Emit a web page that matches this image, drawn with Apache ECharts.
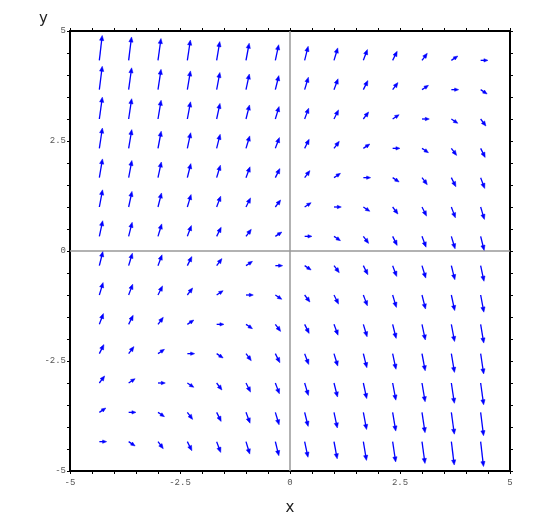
<!DOCTYPE html>
<html>
<head>
<meta charset="utf-8">
<script src="https://cdn.jsdelivr.net/npm/echarts@6/dist/echarts.min.js"></script>
<style>html,body{margin:0;padding:0;background:#fff}#c{width:541px;height:513px}</style>
</head>
<body>
<div id="c"></div>
<script>
// grid point positions (tail of each arrow)
const xs = [-4.333,-3.667,-3,-2.333,-1.667,-1,-0.333,0.333,1,1.667,2.333,3,3.667,4.333];
const ys = [-4.333,-3.667,-3,-2.333,-1.667,-1,-0.333,0.333,1,1.667,2.333,3,3.667,4.333];
// arrow x-components (data units), rows follow ys, columns follow xs
const U = [
 [0.166,0.147,0.120,0.103,0.092,0.085,0.080,0.076,0.073,0.071,0.069,0.068,0.066,0.065],
 [0.147,0.166,0.147,0.120,0.103,0.092,0.085,0.080,0.076,0.073,0.071,0.069,0.068,0.066],
 [0.120,0.147,0.166,0.147,0.120,0.103,0.092,0.085,0.080,0.076,0.073,0.071,0.069,0.068],
 [0.103,0.120,0.147,0.166,0.147,0.120,0.103,0.092,0.085,0.080,0.076,0.073,0.071,0.069],
 [0.092,0.103,0.120,0.147,0.166,0.147,0.120,0.103,0.092,0.085,0.080,0.076,0.073,0.071],
 [0.085,0.092,0.103,0.120,0.147,0.166,0.147,0.120,0.103,0.092,0.085,0.080,0.076,0.073],
 [0.080,0.085,0.092,0.103,0.120,0.147,0.166,0.147,0.120,0.103,0.092,0.085,0.080,0.076],
 [0.076,0.080,0.085,0.092,0.103,0.120,0.147,0.166,0.147,0.120,0.103,0.092,0.085,0.080],
 [0.073,0.076,0.080,0.085,0.092,0.103,0.120,0.147,0.166,0.147,0.120,0.103,0.092,0.085],
 [0.071,0.073,0.076,0.080,0.085,0.092,0.103,0.120,0.147,0.166,0.147,0.120,0.103,0.092],
 [0.069,0.071,0.073,0.076,0.080,0.085,0.092,0.103,0.120,0.147,0.166,0.147,0.120,0.103],
 [0.068,0.069,0.071,0.073,0.076,0.080,0.085,0.092,0.103,0.120,0.147,0.166,0.147,0.120],
 [0.066,0.068,0.069,0.071,0.073,0.076,0.080,0.085,0.092,0.103,0.120,0.147,0.166,0.147],
 [0.065,0.066,0.068,0.069,0.071,0.073,0.076,0.080,0.085,0.092,0.103,0.120,0.147,0.166]
];
// arrow y-components (data units)
const V = [
 [0,-0.098,-0.160,-0.206,-0.246,-0.283,-0.319,-0.355,-0.390,-0.426,-0.461,-0.496,-0.531,-0.566],
 [0.098,0,-0.098,-0.160,-0.206,-0.246,-0.283,-0.319,-0.355,-0.390,-0.426,-0.461,-0.496,-0.531],
 [0.160,0.098,0,-0.098,-0.160,-0.206,-0.246,-0.283,-0.319,-0.355,-0.390,-0.426,-0.461,-0.496],
 [0.206,0.160,0.098,0,-0.098,-0.160,-0.206,-0.246,-0.283,-0.319,-0.355,-0.390,-0.426,-0.461],
 [0.246,0.206,0.160,0.098,0,-0.098,-0.160,-0.206,-0.246,-0.283,-0.319,-0.355,-0.390,-0.426],
 [0.283,0.246,0.206,0.160,0.098,0,-0.098,-0.160,-0.206,-0.246,-0.283,-0.319,-0.355,-0.390],
 [0.319,0.283,0.246,0.206,0.160,0.098,0,-0.098,-0.160,-0.206,-0.246,-0.283,-0.319,-0.355],
 [0.355,0.319,0.283,0.246,0.206,0.160,0.098,0,-0.098,-0.160,-0.206,-0.246,-0.283,-0.319],
 [0.390,0.355,0.319,0.283,0.246,0.206,0.160,0.098,0,-0.098,-0.160,-0.206,-0.246,-0.283],
 [0.426,0.390,0.355,0.319,0.283,0.246,0.206,0.160,0.098,0,-0.098,-0.160,-0.206,-0.246],
 [0.461,0.426,0.390,0.355,0.319,0.283,0.246,0.206,0.160,0.098,0,-0.098,-0.160,-0.206],
 [0.496,0.461,0.426,0.390,0.355,0.319,0.283,0.246,0.206,0.160,0.098,0,-0.098,-0.160],
 [0.531,0.496,0.461,0.426,0.390,0.355,0.319,0.283,0.246,0.206,0.160,0.098,0,-0.098],
 [0.566,0.531,0.496,0.461,0.426,0.390,0.355,0.319,0.283,0.246,0.206,0.160,0.098,0]
];
const tickLabels = [-5, -2.5, 0, 2.5, 5];

const arrows = [];
for (let j = 0; j < ys.length; j++) {
  for (let i = 0; i < xs.length; i++) {
    arrows.push([xs[i], ys[j], U[j][i], V[j][i]]);
  }
}

function fmt(v) {
  for (const t of tickLabels) if (Math.abs(v - t) < 1e-6) return String(t);
  return '';
}

const monoLabel = { fontFamily: '"Liberation Mono","DejaVu Sans Mono",monospace', fontSize: 9, color: '#555' };

function axisCommon(extra) {
  return Object.assign({
    type: 'value', min: -5, max: 5, interval: 0.5,
    axisLine: { show: true, onZero: false, lineStyle: { color: '#000', width: 2 } },
    axisTick: { show: true, inside: false, length: 3, lineStyle: { color: '#000', width: 1 } },
    splitLine: { show: false }
  }, extra);
}

const chart = echarts.init(document.getElementById('c'), null, { renderer: 'canvas' });
chart.setOption({
  backgroundColor: '#fff',
  animation: false,
  grid: { left: 70, right: 31, top: 31, bottom: 42, containLabel: false, outerBoundsMode: 'none' },
  xAxis: [
    axisCommon({ position: 'bottom', name: 'x', nameLocation: 'middle', nameGap: 30,
      nameTextStyle: { fontFamily: '"DejaVu Sans",sans-serif', fontSize: 15, color: '#222' },
      axisLabel: Object.assign({ formatter: fmt, margin: 7, showMinLabel: true, showMaxLabel: true }, monoLabel) }),
    axisCommon({ position: 'top', axisLabel: { show: false } })
  ],
  yAxis: [
    axisCommon({ position: 'left', name: 'y', nameLocation: 'end', nameGap: 4,
      nameTextStyle: { fontFamily: '"DejaVu Sans",sans-serif', fontSize: 15, color: '#222', align: 'right', padding: [0, 22, 0, 0] },
      axisLabel: Object.assign({ formatter: fmt, margin: 4, showMinLabel: true, showMaxLabel: true }, monoLabel) }),
    axisCommon({ position: 'right', axisLabel: { show: false } })
  ],
  series: [
    { type: 'line', data: [[0, -5], [0, 5]], showSymbol: false, symbol: 'none', silent: true,
      lineStyle: { color: '#999', width: 1.5 }, z: 1 },
    { type: 'line', data: [[-5, 0], [5, 0]], showSymbol: false, symbol: 'none', silent: true,
      lineStyle: { color: '#999', width: 1.5 }, z: 1 },
    {
      type: 'custom', z: 5, silent: true,
      data: arrows,
      renderItem: function (params, api) {
        const x = api.value(0), y = api.value(1), u = api.value(2), v = api.value(3);
        const p0 = api.coord([x, y]);
        const p1 = api.coord([x + u, y + v]);
        const dx = p1[0] - p0[0], dy = p1[1] - p0[1];
        const len = Math.sqrt(dx * dx + dy * dy) || 1;
        const ux = dx / len, uy = dy / len;
        const hl = Math.min(5, len * 0.55), hw = hl * 0.42;
        const bx = p1[0] - ux * hl, by = p1[1] - uy * hl;
        return {
          type: 'group',
          children: [
            { type: 'line', shape: { x1: p0[0], y1: p0[1], x2: bx + ux * 0.5, y2: by + uy * 0.5 },
              style: { stroke: '#0000ff', lineWidth: 1.3 } },
            { type: 'polygon', shape: { points: [[p1[0], p1[1]], [bx - uy * hw, by + ux * hw], [bx + uy * hw, by - ux * hw]] },
              style: { fill: '#0000ff', stroke: '#0000ff', lineWidth: 0.5 } }
          ]
        };
      }
    }
  ]
});
</script>
</body>
</html>
